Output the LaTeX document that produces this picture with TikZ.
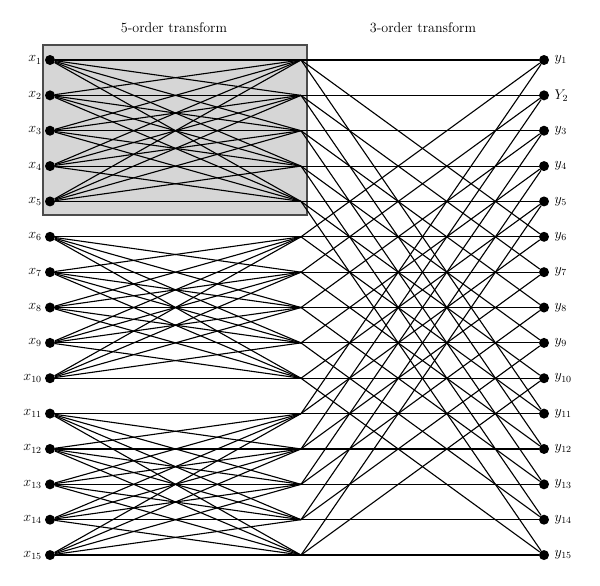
\documentclass[tikz,border=0pt]{standalone}
\usepackage{amsmath,amssymb}
\usepackage{tikz}
\usetikzlibrary{positioning}

\begin{document}
\begin{tikzpicture}[x=0.03cm, y=-0.03cm,
  dot/.style={circle, fill=black, inner sep=0pt, minimum size=0.3cm},
  wire/.style={black, line width=0.95pt},
  title/.style={font=\large}]
\useasboundingbox (0,0) rectangle (600,585);

% Shaded block (first 5-order transform)
\fill[gray!32] (43,45) rectangle (307,215);
\draw[black!70, line width=0.9pt] (43,45) rectangle (307,215);

% Titles
\node[title] (t5) at (174,28) {5-order transform};
\node[title] (t3) at (423,28) {3-order transform};

% Inputs, middle points, outputs
\foreach \i in {1,...,15} {
  \node[dot] (x\i) at (50,{60+35.36*(\i-1)}) {};
  \node[left=-1pt of x\i, font=\large] (lx\i) {$x_{\i}$};
  \coordinate (m\i) at (301,{60+35.36*(\i-1)});
  \node[dot] (y\i) at (544,{60+35.36*(\i-1)}) {};
}
\foreach \i in {1,3,4,...,15}
  \node[right=1pt of y\i, font=\large] (ly\i) {$y_{\i}$};
\node[right=1pt of y2, font=\large] (ly2) {$Y_{2}$};

% 5-order transforms
\foreach \g in {0,1,2}
  \foreach \i in {1,...,5}
    \foreach \j in {1,...,5} {
      \pgfmathtruncatemacro{\a}{5*\g+\i}
      \pgfmathtruncatemacro{\b}{5*\g+\j}
      \draw[wire] (x\a) -- (m\b);
    }

% 3-order transforms
\foreach \i in {1,...,5}
  \foreach \p in {0,1,2}
    \foreach \q in {0,1,2} {
      \pgfmathtruncatemacro{\a}{\i+5*\p}
      \pgfmathtruncatemacro{\b}{\i+5*\q}
      \draw[wire] (m\a) -- (y\b);
    }
\end{tikzpicture}
\end{document}
